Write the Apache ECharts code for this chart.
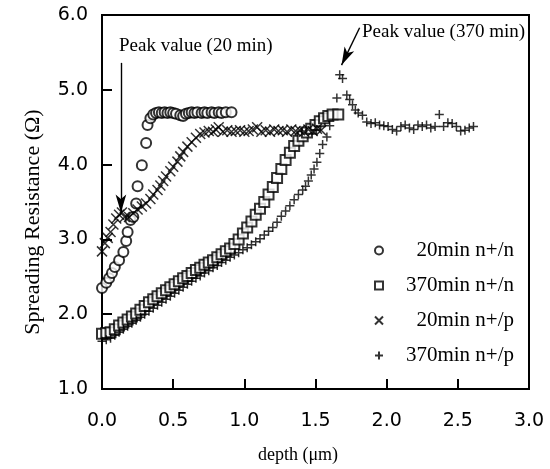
<!DOCTYPE html>
<html>
<head>
<meta charset="utf-8">
<script src="https://cdn.jsdelivr.net/npm/echarts@6/dist/echarts.min.js"></script>
<style>
  html, body { margin: 0; padding: 0; background: #fff; }
  #chart { width: 550px; height: 469px; }
</style>
</head>
<body>
<div id="chart"></div>
<script>
// depth (um) vs spreading resistance
const xTicks = [0, 0.5, 1.0, 1.5, 2.0, 2.5, 3.0];
const yTicks = [1, 2, 3, 4, 5, 6];

const names = ['20min n+/n', '370min n+/n', '20min n+/p', '370min n+/p'];

const n20n = [
  [0.00, 2.35], [0.03, 2.42], [0.05, 2.48], [0.07, 2.55], [0.09, 2.63], [0.12, 2.72],
  [0.15, 2.83], [0.17, 2.98], [0.18, 3.10], [0.20, 3.26], [0.22, 3.30], [0.24, 3.48],
  [0.25, 3.71], [0.28, 3.99], [0.31, 4.29], [0.32, 4.53], [0.34, 4.62], [0.36, 4.67],
  [0.38, 4.69], [0.40, 4.70], [0.42, 4.69], [0.44, 4.70], [0.46, 4.69], [0.48, 4.70],
  [0.50, 4.69], [0.52, 4.68], [0.55, 4.66], [0.57, 4.65], [0.59, 4.68], [0.61, 4.69],
  [0.63, 4.70], [0.65, 4.69], [0.67, 4.70], [0.70, 4.69], [0.72, 4.70], [0.74, 4.69],
  [0.77, 4.70], [0.79, 4.69], [0.82, 4.70], [0.84, 4.69], [0.87, 4.70], [0.91, 4.70]
];

const n370n = [
  [0.00, 1.74], [0.03, 1.75], [0.06, 1.76], [0.09, 1.80], [0.12, 1.85], [0.15, 1.89],
  [0.18, 1.93], [0.21, 1.97], [0.24, 2.01], [0.27, 2.06], [0.30, 2.11], [0.33, 2.16],
  [0.36, 2.20], [0.39, 2.24], [0.42, 2.28], [0.45, 2.32], [0.48, 2.36], [0.51, 2.40],
  [0.54, 2.44], [0.57, 2.48], [0.60, 2.51], [0.63, 2.55], [0.66, 2.59], [0.69, 2.62],
  [0.72, 2.66], [0.75, 2.69], [0.78, 2.72], [0.81, 2.76], [0.84, 2.80], [0.87, 2.84],
  [0.90, 2.88], [0.93, 2.94], [0.96, 3.00], [0.99, 3.08], [1.02, 3.16], [1.05, 3.24],
  [1.08, 3.33], [1.11, 3.41], [1.14, 3.50], [1.17, 3.60], [1.20, 3.70], [1.23, 3.82],
  [1.26, 3.94], [1.29, 4.06], [1.32, 4.16], [1.35, 4.25], [1.38, 4.32], [1.41, 4.38],
  [1.44, 4.43], [1.47, 4.48], [1.50, 4.53], [1.53, 4.58], [1.56, 4.62], [1.59, 4.65],
  [1.62, 4.67], [1.66, 4.67]
];

const n20p = [
  [0.00, 2.84], [0.02, 2.95], [0.04, 3.02], [0.06, 3.10], [0.08, 3.20], [0.10, 3.28],
  [0.12, 3.33], [0.14, 3.36], [0.16, 3.30], [0.19, 3.30], [0.22, 3.35], [0.25, 3.40],
  [0.28, 3.44], [0.31, 3.48], [0.34, 3.54], [0.36, 3.60], [0.39, 3.66], [0.41, 3.72],
  [0.43, 3.78], [0.45, 3.84], [0.48, 3.91], [0.50, 3.97], [0.53, 4.04], [0.55, 4.11],
  [0.57, 4.17], [0.60, 4.24], [0.63, 4.30], [0.66, 4.36], [0.69, 4.41], [0.72, 4.43],
  [0.75, 4.45], [0.78, 4.44], [0.80, 4.47], [0.82, 4.50], [0.85, 4.44], [0.88, 4.46],
  [0.91, 4.44], [0.94, 4.45], [0.97, 4.46], [1.00, 4.44], [1.03, 4.45], [1.06, 4.47],
  [1.09, 4.50], [1.12, 4.44], [1.15, 4.46], [1.18, 4.44], [1.21, 4.47], [1.24, 4.45],
  [1.27, 4.46], [1.30, 4.44], [1.33, 4.47], [1.36, 4.45], [1.39, 4.46], [1.42, 4.44],
  [1.45, 4.47], [1.48, 4.45], [1.51, 4.48], [1.54, 4.46]
];

const n370p = [
  [0.00, 1.64], [0.03, 1.66], [0.06, 1.68], [0.09, 1.72], [0.12, 1.76], [0.15, 1.80],
  [0.18, 1.84], [0.21, 1.88], [0.24, 1.92], [0.27, 1.96], [0.30, 2.00], [0.33, 2.04],
  [0.36, 2.08], [0.39, 2.12], [0.42, 2.16], [0.45, 2.20], [0.48, 2.24], [0.51, 2.28],
  [0.54, 2.32], [0.57, 2.36], [0.60, 2.40], [0.63, 2.44], [0.66, 2.48], [0.69, 2.51],
  [0.72, 2.55], [0.75, 2.58], [0.78, 2.62], [0.81, 2.65], [0.84, 2.69], [0.87, 2.72],
  [0.90, 2.76], [0.93, 2.79], [0.96, 2.82], [0.99, 2.86], [1.02, 2.89], [1.05, 2.93],
  [1.08, 2.97], [1.11, 3.01], [1.14, 3.06], [1.17, 3.11], [1.20, 3.16], [1.23, 3.23],
  [1.26, 3.31], [1.29, 3.38], [1.32, 3.45], [1.35, 3.53], [1.38, 3.60], [1.41, 3.66],
  [1.43, 3.71], [1.45, 3.78], [1.47, 3.86], [1.49, 3.94], [1.51, 4.03], [1.53, 4.15],
  [1.55, 4.27], [1.58, 4.37], [1.60, 4.52], [1.65, 4.89], [1.67, 5.20], [1.69, 5.15],
  [1.72, 4.93], [1.74, 4.87], [1.76, 4.80], [1.78, 4.73], [1.80, 4.69], [1.83, 4.66],
  [1.86, 4.57], [1.89, 4.55], [1.92, 4.56], [1.95, 4.53], [1.98, 4.52], [2.01, 4.51],
  [2.04, 4.47], [2.07, 4.45], [2.10, 4.51], [2.13, 4.53], [2.16, 4.49], [2.19, 4.47],
  [2.22, 4.53], [2.25, 4.51], [2.28, 4.53], [2.31, 4.49], [2.34, 4.51], [2.37, 4.67],
  [2.40, 4.51], [2.43, 4.56], [2.46, 4.55], [2.49, 4.51], [2.52, 4.45], [2.55, 4.46],
  [2.58, 4.49], [2.61, 4.51]
];

// annotation arrows, [from, to] in data coords
const arrow20 = [[0.133, 5.36], [0.133, 3.36]];
const arrow370 = [[1.81, 5.83], [1.683, 5.33]];

const SERIF = '"Liberation Serif", "Times New Roman", serif';
const SANS = '"DejaVu Sans", sans-serif';

const X_PATH = 'path://M0,0L10,10M10,0L0,10';
const PLUS_PATH = 'path://M5,0L5,10M0,5L10,5';

const chart = echarts.init(document.getElementById('chart'));

const strokeOnly = { color: 'rgba(0,0,0,0)', borderColor: '#000', borderWidth: 1.5 };

function arrowLine(pts) {
  return {
    silent: true,
    symbol: ['none', 'arrow'],
    symbolSize: [8, 18],
    label: { show: false },
    lineStyle: { color: '#000', width: 1.4, type: 'solid' },
    data: [[{ coord: pts[0] }, { coord: pts[1] }]],
  };
}

chart.setOption({
  animation: false,
  backgroundColor: '#fff',
  grid: {
    left: 102, right: 21, top: 15, bottom: 79,
    show: true, borderColor: '#000', borderWidth: 2,
  },
  xAxis: {
    type: 'value',
    min: xTicks[0],
    max: xTicks[xTicks.length - 1],
    interval: 0.5,
    name: 'depth (\u03bcm)',
    nameLocation: 'middle',
    nameGap: 57,
    nameTextStyle: { fontFamily: SERIF, fontSize: 18, color: '#000', padding: [0, 35, 0, 0] },
    axisLine: { lineStyle: { color: '#000', width: 2 } },
    axisTick: { inside: true, length: 10, lineStyle: { color: '#000', width: 2 } },
    splitLine: { show: false },
    axisLabel: {
      margin: 23, fontFamily: SANS, fontSize: 19, color: '#000',
      formatter: (v) => v.toFixed(1),
    },
  },
  yAxis: {
    type: 'value',
    min: yTicks[0],
    max: yTicks[yTicks.length - 1],
    interval: 1,
    name: 'Spreading Resistance (\u03a9)',
    nameLocation: 'middle',
    nameGap: 58,
    nameTextStyle: { fontFamily: SERIF, fontSize: 22, color: '#000', padding: [0, 40, 0, 0] },
    axisLine: { lineStyle: { color: '#000', width: 2 } },
    axisTick: { inside: true, length: 10, lineStyle: { color: '#000', width: 2 } },
    splitLine: { show: false },
    axisLabel: {
      margin: 14, fontFamily: SANS, fontSize: 19, color: '#000',
      formatter: (v) => v.toFixed(1),
    },
  },
  legend: {
    orient: 'vertical',
    left: 369,
    top: 235,
    itemWidth: 8,
    itemHeight: 8,
    itemGap: 14,
    data: names,
    formatter: (n) => '{t|' + n + '}',
    textStyle: {
      rich: {
        t: { fontFamily: SERIF, fontSize: 21, color: '#000', width: 126, align: 'right', lineHeight: 20 },
      },
    },
  },
  graphic: [
    {
      type: 'text', left: 119, top: 37,
      style: { text: 'Peak value (20 min)', font: '19px ' + SERIF, fill: '#000' },
    },
    {
      type: 'text', left: 362, top: 23,
      style: { text: 'Peak value (370 min)', font: '19px ' + SERIF, fill: '#000' },
    },
  ],
  series: [
    {
      name: names[0], type: 'scatter', data: n20n,
      symbol: 'emptyCircle', symbolSize: 10,
      itemStyle: { color: '#000', borderWidth: 1.2 },
      markLine: arrowLine(arrow20),
    },
    {
      name: names[1], type: 'scatter', data: n370n,
      symbol: 'emptyRect', symbolSize: 10,
      itemStyle: { color: '#000', borderWidth: 1.2 },
      markLine: arrowLine(arrow370),
    },
    {
      name: names[2], type: 'scatter', data: n20p,
      symbol: X_PATH, symbolSize: 10,
      itemStyle: strokeOnly,
    },
    {
      name: names[3], type: 'scatter', data: n370p,
      symbol: PLUS_PATH, symbolSize: 9,
      itemStyle: strokeOnly,
    },
  ],
});
</script>
</body>
</html>
